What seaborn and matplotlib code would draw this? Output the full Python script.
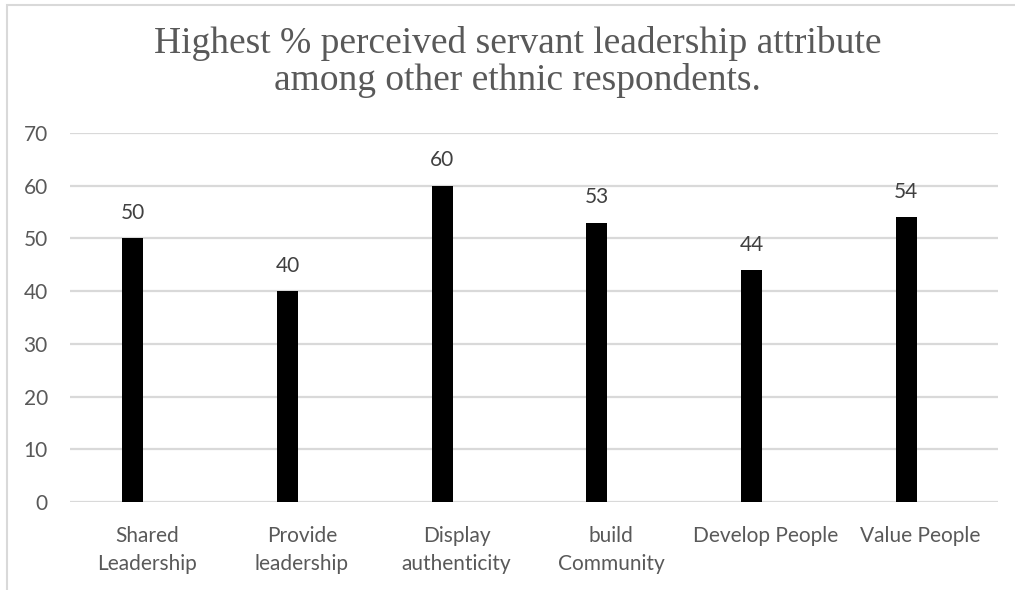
import matplotlib
matplotlib.use("Agg")
import matplotlib.pyplot as plt
import seaborn as sns
import pandas as pd
from matplotlib.patches import Rectangle

# Chart data
categories = ["Shared\nLeadership", "Provide\nleadership", "Display\nauthenticity",
              "build\nCommunity", "Develop People", "Value People"]
values = [50, 40, 60, 53, 44, 54]
series = ["Highest %", "Other"]
y_ticks = [0, 10, 20, 30, 40, 50, 60, 70]
title = "Highest % perceived servant leadership attribute\namong other ethnic respondents."

TEXT = "#595959"
GRID = "#d9d9d9"
FS = 15

sns.set_theme(style="white")
plt.rcParams["font.family"] = ["Lato", "DejaVu Sans"]

df = pd.DataFrame({"attribute": categories, "percent": values, "series": series[0]})

W, H = 1015, 590
fig = plt.figure(figsize=(W / 100, H / 100), dpi=100)
ax = fig.add_axes([70 / W, 1 - 502 / H, 928 / W, 369 / H])

sns.barplot(data=df, x="attribute", y="percent", hue="series", hue_order=series,
            order=categories, width=0.375, gap=0.275, dodge=True,
            palette=["black", "white"], saturation=1, legend=False,
            edgecolor="none", ax=ax)

ax.set_xlim(-0.5, len(categories) - 0.5)
ax.set_ylim(0, 70)
ax.set_yticks(y_ticks)
ax.set_xlabel("")
ax.set_ylabel("")
ax.yaxis.grid(True, color=GRID, lw=1.6)
ax.set_axisbelow(True)
for s in ax.spines.values():
    s.set_visible(False)
ax.tick_params(axis="y", length=0, pad=16, labelsize=FS, labelcolor=TEXT)
ax.tick_params(axis="x", length=0, pad=17, labelsize=FS, labelcolor=TEXT)
for lbl in ax.get_xticklabels():
    lbl.set_linespacing(1.55)
    lbl.set_verticalalignment("top")

ax.bar_label(ax.containers[0], padding=11, fontsize=FS, color="#404040")

# Two-line title, each line placed on its own baseline
for i, line in enumerate(title.split("\n")):
    fig.text(0.51, 1 - (53 + 37 * i) / H, line, ha="center", va="baseline",
             family=["Liberation Serif"], fontsize=27, color=TEXT)

# Chart-area border
fig.add_artist(Rectangle((7 / W, -0.2), 1.2, 1.2 - 5 / H, transform=fig.transFigure,
                         fill=False, edgecolor=GRID, lw=1.5))

fig.savefig("out.png", dpi=100)
